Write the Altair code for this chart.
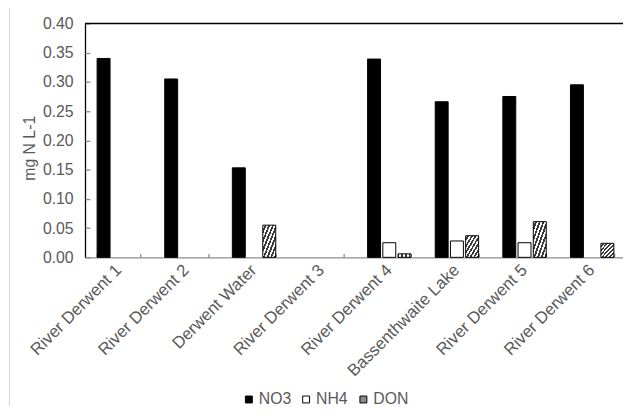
import altair as alt
import pandas as pd

sites = ["River Derwent 1", "River Derwent 2", "Derwent Water", "River Derwent 3",
         "River Derwent 4", "Bassenthwaite Lake", "River Derwent 5", "River Derwent 6"]
series = ["NO3", "NH4", "DON"]
no3 = [0.340, 0.305, 0.153, 0.0, 0.339, 0.266, 0.275, 0.295]
nh4 = [0.0, 0.0, 0.0, 0.0, 0.025, 0.028, 0.025, 0.0]
don = [0.0, 0.0, 0.055, 0.0, 0.006, 0.037, 0.061, 0.024]
y_ticks = [0.0, 0.05, 0.10, 0.15, 0.20, 0.25, 0.30, 0.35, 0.40]

rows = []
for name, vals in zip(series, [no3, nh4, don]):
    for s, v in zip(sites, vals):
        rows.append({"site": s, "series": name, "value": v})
df = pd.DataFrame(rows)

FONT = "Liberation Sans"
TXT = "#595959"
W, H = 545, 237
XR = 548

# diagonal hatch approximated with a striped gradient
n = 7
stops = []
for i in range(n):
    a, b, c = i / n, (i + 0.5) / n, (i + 1) / n
    stops += [{"offset": a, "color": "#ffffff"}, {"offset": b, "color": "#ffffff"},
              {"offset": b, "color": "#3a3a3a"}, {"offset": c, "color": "#3a3a3a"}]
hatch = {"gradient": "linear", "x1": 0, "y1": 0, "x2": 1, "y2": 1, "stops": stops}

xscale = alt.Scale(domain=sites, range=[0, XR], paddingInner=0.358, paddingOuter=0.179)
yscale = alt.Scale(domain=[0, 0.4], nice=False, zero=True)

base = alt.Chart(df).transform_filter(alt.datum.value > 0)

bars = base.mark_bar(stroke="black", strokeWidth=1).encode(
    x=alt.X("site:N", scale=xscale, sort=sites,
            axis=alt.Axis(title=None, orient="bottom", labelAngle=-45, ticks=False, tickSize=0,
                          domainColor="#8c8c8c", domainWidth=1.3,
                          labelFont=FONT, labelFontSize=17, labelColor=TXT,
                          labelPadding=10, labelAlign="right", labelBaseline="middle")),
    xOffset=alt.XOffset("series:N", sort=series,
                        scale=alt.Scale(domain=series, paddingInner=0.15, paddingOuter=0)),
    y=alt.Y("value:Q", scale=yscale,
            axis=alt.Axis(title="mg N L-1", orient="left", values=y_ticks, format=".2f",
                          ticks=False, tickSize=0, domainColor="black", domainWidth=1.3,
                          labelFont=FONT, labelFontSize=16, labelColor=TXT, labelPadding=12,
                          titleFont=FONT, titleFontSize=16, titleColor=TXT,
                          titleFontWeight="normal", titleAngle=270, titleX=-51, titleY=126,
                          titleAlign="center", titleBaseline="alphabetic")),
    fill=alt.condition(
        alt.datum.series == "DON", alt.value(hatch),
        alt.Fill("series:N", scale=alt.Scale(domain=series, range=["black", "white", "#8c8c8c"]),
                 legend=alt.Legend(title=None, orient="none", legendX=158, legendY=373,
                                   direction="horizontal", symbolType="square", symbolSize=49,
                                   symbolStrokeColor="black", symbolStrokeWidth=1,
                                   labelFont=FONT, labelFontSize=16, labelColor=TXT,
                                   labelOffset=2, columnPadding=7, padding=0))),
)

ticks = base.mark_bar(opacity=0).encode(
    x=alt.X("site:N", scale=xscale, sort=sites,
            axis=alt.Axis(title=None, orient="bottom", labels=False, domain=False, ticks=True,
                          tickSize=4, tickBand="extent", offset=-4, tickColor="#8c8c8c",
                          tickWidth=1.3)),
    y=alt.Y("value:Q", scale=yscale,
            axis=alt.Axis(title=None, orient="left", labels=False, domain=False, ticks=True,
                          tickSize=5, offset=-5, values=y_ticks, tickColor="#8c8c8c",
                          tickWidth=1.3)),
)

one = alt.Data(values=[{"k": 1}])
top_line = alt.Chart(one).mark_rule(color="black", strokeWidth=1.5).encode(
    x=alt.value(0), x2=alt.value(XR), y=alt.value(0))
border = alt.Chart(one).mark_rule(color="#d9d9d9", strokeWidth=1.2).encode(
    x=alt.value(-76.5), y=alt.value(-21), y2=alt.value(400))

chart = alt.layer(bars, ticks, top_line, border).resolve_axis(
    x="independent", y="independent"
).properties(
    width=W, height=H,
    autosize=alt.AutoSizeParams(type="none"),
    padding={"left": 78, "top": 13, "right": 0, "bottom": 148},
).configure_view(stroke=None).configure_axis(grid=False)

chart.save("out.html", embed_options={"renderer": "svg", "actions": False})
